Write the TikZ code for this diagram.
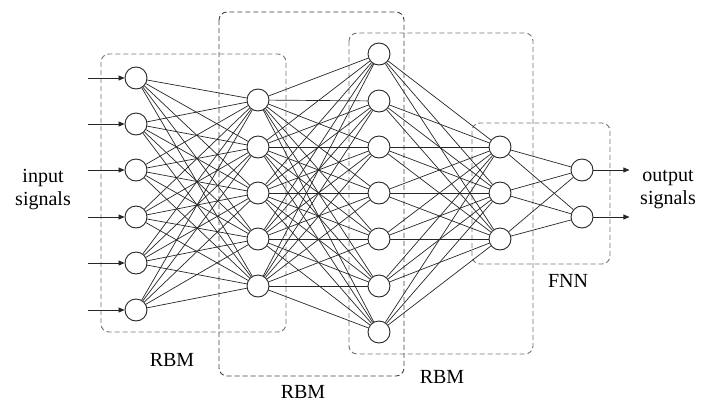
\documentclass[tikz,border=0pt]{standalone}
\usepackage{fontspec}
\setmainfont{Liberation Serif}
\usepackage{tikz}
\usetikzlibrary{arrows.meta}

\tikzset{
  neuron/.style={circle,draw=black!85,fill=white,line width=0.9pt,minimum size=22pt,inner sep=0pt},
  conn/.style={draw=black!85,line width=0.7pt},
  bloque/.style={draw=black!55,dashed,dash pattern=on 5pt off 3pt,line width=0.9pt,rounded corners=8pt},
  senal/.style={conn,-{Triangle[length=6pt,width=5pt]}},
  rotulo/.style={font=\fontsize{20}{23}\selectfont,align=center}
}

\begin{document}
\begin{tikzpicture}[x=1pt,y=-1pt]
		\useasboundingbox (0,0) rectangle (704,408);
		% Bloques RBM y FNN
		\draw[bloque] (101,54) rectangle (286,332);
		\draw[bloque,draw=black!75] (219,12) rectangle (404,376);
		\draw[bloque] (349,33) rectangle (533,354);
		\draw[bloque] (472,123) rectangle (610,264);
		\node(rbm1)[rotulo] at (172,360) {RBM};
		\node(rbm2)[rotulo] at (303,392) {RBM};
		\node(rbm3)[rotulo] at (442,377) {RBM};
		\node(fnn)[rotulo] at (568,281) {FNN};
		% Capa de entrada
		\node(L1-1)[neuron] at (136,78) {};
		\node(L1-2)[neuron] at (136,124) {};
		\node(L1-3)[neuron] at (136,170) {};
		\node(L1-4)[neuron] at (136,217) {};
		\node(L1-5)[neuron] at (136,263) {};
		\node(L1-6)[neuron] at (136,310) {};
		% Capa oculta 1
		\node(L2-1)[neuron] at (258,100) {};
		\node(L2-2)[neuron] at (258,147) {};
		\node(L2-3)[neuron] at (258,193) {};
		\node(L2-4)[neuron] at (258,239) {};
		\node(L2-5)[neuron] at (258,286) {};
		% Capa oculta 2
		\node(L3-1)[neuron] at (379,54) {};
		\node(L3-2)[neuron] at (379,101) {};
		\node(L3-3)[neuron] at (379,147) {};
		\node(L3-4)[neuron] at (379,193) {};
		\node(L3-5)[neuron] at (379,239) {};
		\node(L3-6)[neuron] at (379,286) {};
		\node(L3-7)[neuron] at (379,332) {};
		% Capa oculta 3
		\node(L4-1)[neuron] at (500,147) {};
		\node(L4-2)[neuron] at (500,193) {};
		\node(L4-3)[neuron] at (500,239) {};
		% Capa de salida
		\node(L5-1)[neuron] at (582,170) {};
		\node(L5-2)[neuron] at (582,217) {};
		% Conexiones
		\foreach \a in {1,...,6} \foreach \b in {1,...,5} \draw[conn] (L1-\a) -- (L2-\b);
		\foreach \a in {1,...,5} \foreach \b in {1,...,7} \draw[conn] (L2-\a) -- (L3-\b);
		\foreach \a in {1,...,7} \foreach \b in {1,...,3} \draw[conn] (L3-\a) -- (L4-\b);
		\foreach \a in {1,...,3} \foreach \b in {1,2} \draw[conn] (L4-\a) -- (L5-\b);
		% Entradas y salidas
		\foreach \a in {1,...,6} {
			\coordinate(in\a) at ([xshift=-37pt]L1-\a.west);
			\draw[senal] (in\a) -- (L1-\a);
		}
		\foreach \a in {1,2} {
			\coordinate(out\a) at ([xshift=36pt]L5-\a.east);
			\draw[senal] (L5-\a) -- (out\a);
		}
		\node(entrada)[rotulo] at (43,190) {input\\signals};
		\node(salida)[rotulo] at (668,190) {output\\signals};
	\end{tikzpicture}
\end{document}
